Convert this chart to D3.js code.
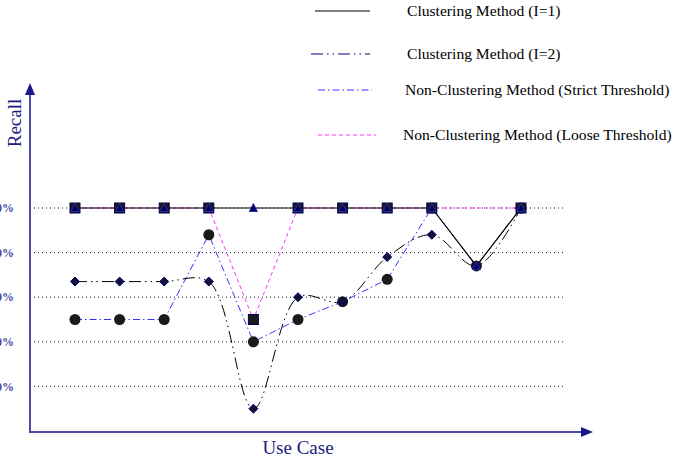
<!DOCTYPE html>
<html><head><meta charset="utf-8">
<script src="https://cdn.jsdelivr.net/npm/d3@7"></script>
<style>body{margin:0;background:#fff}svg{display:block}</style>
</head><body>
<svg id="c" width="674" height="461"></svg>
<script>
const useCases = ["1","2","3","4","5","6","7","8","9","10","11"];
const yTicks = [20, 40, 60, 80, 100];
const yTickLabels = ["20%", "40%", "60%", "80%", "100%"];
const clusteringI1 = [100,100,100,100,100,100,100,100,100,74,100];
const clusteringI2 = [67,67,67,67,10,60,58,78,88,74,100];
const strictThreshold = [50,50,50,88,40,50,58,68,100,74,100];
const looseThreshold = [100,100,100,100,50,100,100,100,100,null,100];
const legendLabels = ["Clustering Method (I=1)","Clustering Method (I=2)","Non-Clustering Method (Strict Threshold)","Non-Clustering Method (Loose Threshold)"];

const svg = d3.select("#c");
const axisColor = "#4a4aa6";
const serif = "'Liberation Serif','Times New Roman',serif";
const x = d3.scalePoint().domain(useCases).range([75, 521]);
const y = d3.scaleLinear().domain([0, 100]).range([431, 208]);

// gridlines
svg.append("g").selectAll("line").data(yTicks).join("line")
  .attr("x1", 30).attr("x2", 566).attr("y1", d => y(d)).attr("y2", d => y(d))
  .attr("stroke", "#222").attr("stroke-width", 1).attr("stroke-dasharray", "1,3");

// y tick labels (partly clipped at left edge, as in the reference)
svg.append("g").selectAll("text").data(yTicks).join("text")
  .attr("x", 14).attr("y", d => y(d)).attr("dy", "0.35em")
  .attr("text-anchor", "end").attr("fill", axisColor)
  .attr("font-family", serif).attr("font-size", 12).attr("font-weight", "bold")
  .text((d, i) => yTickLabels[i]);

// axes with arrows
svg.append("line").attr("x1", 30).attr("x2", 30).attr("y1", 432).attr("y2", 92)
  .attr("stroke", axisColor).attr("stroke-width", 2);
svg.append("path").attr("d", "M30,83 L25,95 L35,95 Z").attr("fill", "#1a1a8a");
svg.append("line").attr("x1", 29).attr("x2", 584).attr("y1", 432).attr("y2", 432)
  .attr("stroke", axisColor).attr("stroke-width", 2);
svg.append("path").attr("d", "M593,432 L581,427 L581,437 Z").attr("fill", "#1a1a8a");

svg.append("text").attr("transform", "translate(21,123) rotate(-90)")
  .attr("text-anchor", "middle").attr("fill", "#1a1a80")
  .attr("font-family", serif).attr("font-size", 19).text("Recall");
svg.append("text").attr("x", 298).attr("y", 454)
  .attr("text-anchor", "middle").attr("fill", "#1a1a80")
  .attr("font-family", serif).attr("font-size", 19).text("Use Case");

function pts(arr) { return arr.map((v, i) => [useCases[i], v]).filter(d => d[1] !== null); }
const linear = d3.line().x(d => x(d[0])).y(d => y(d[1]));
const smooth = d3.line().x(d => x(d[0])).y(d => y(d[1])).curve(d3.curveCatmullRom.alpha(0.5));

const series = [
  {data: clusteringI1, color: "#000", dash: null, width: 1.2, gen: linear},
  {data: clusteringI2, color: "#000", dash: "12,4,1.5,4,1.5,4", width: 1, gen: smooth},
  {data: strictThreshold, color: "#3333ff", dash: "7,3,1.5,3", width: 1, gen: linear},
  {data: looseThreshold, color: "#ff33ff", dash: "4,3", width: 1, gen: linear}
];
const lineOrder = [2, 1, 3, 0];
lineOrder.forEach(k => {
  const s = series[k];
  svg.append("path").attr("d", s.gen(pts(s.data))).attr("fill", "none")
    .attr("stroke", s.color).attr("stroke-width", s.width)
    .attr("stroke-dasharray", s.dash);
});

// markers
const mk = svg.append("g");
mk.selectAll("circle").data(pts(strictThreshold)).join("circle")
  .attr("cx", d => x(d[0])).attr("cy", d => y(d[1])).attr("r", 5.5).attr("fill", "#1a1a1a");
mk.selectAll("path.dia").data(pts(clusteringI2)).join("path").attr("class", "dia")
  .attr("d", "M0,-4.5 L4.5,0 L0,4.5 L-4.5,0 Z")
  .attr("transform", d => `translate(${x(d[0])},${y(d[1])})`)
  .attr("fill", "#111133").attr("stroke", "#000080").attr("stroke-width", 1);
mk.selectAll("rect").data(pts(looseThreshold)).join("rect")
  .attr("x", d => x(d[0]) - 5).attr("y", d => y(d[1]) - 5).attr("width", 10).attr("height", 10)
  .attr("fill", "#1a1a1a").attr("stroke", "#000050").attr("stroke-width", 1);
mk.selectAll("path.tri").data(pts(clusteringI1)).join("path").attr("class", "tri")
  .attr("d", "M0,-4.5 L4,3.5 L-4,3.5 Z")
  .attr("transform", d => `translate(${x(d[0])},${y(d[1])})`)
  .attr("fill", "#000060").attr("stroke", "#2a2aa0").attr("stroke-width", 1);

// legend
const legY = [11, 54, 90, 135];
const legX1 = [315, 311, 318, 318];
const legX2 = [370, 370, 372, 376];
const legTx = [407, 407, 405, 403];
const legColors = ["#000", "#000080", "#3333ff", "#ff33ff"];
legendLabels.forEach((t, i) => {
  svg.append("line").attr("x1", legX1[i]).attr("x2", legX2[i]).attr("y1", legY[i]).attr("y2", legY[i])
    .attr("stroke", legColors[i]).attr("stroke-width", 1.2).attr("stroke-dasharray", series[i].dash);
  svg.append("text").attr("x", legTx[i]).attr("y", legY[i]).attr("dy", "0.35em")
    .attr("font-family", serif).attr("font-size", 15.6).attr("fill", "#000").text(t);
});
</script>
</body></html>
